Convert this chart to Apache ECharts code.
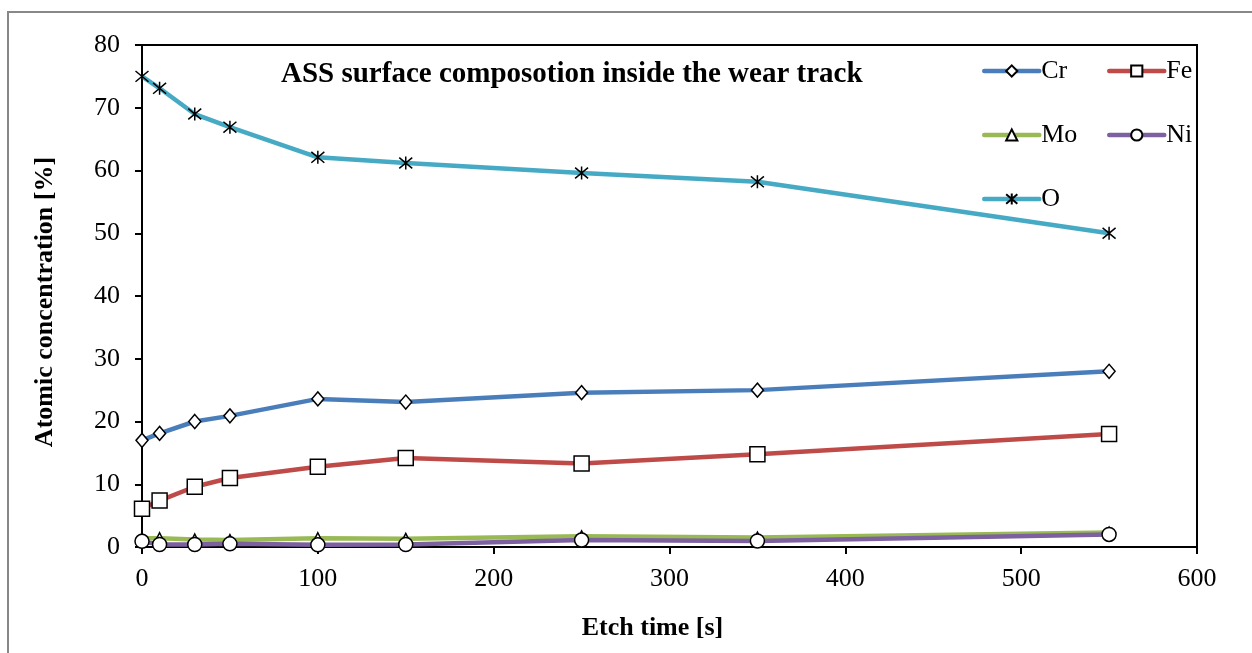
<!DOCTYPE html>
<html>
<head>
<meta charset="utf-8">
<script src="https://cdn.jsdelivr.net/npm/echarts@6/dist/echarts.min.js"></script>
<style>
html,body{margin:0;padding:0;background:#fff;}
#chart{width:1252px;height:653px;}
</style>
</head>
<body>
<div id="chart"></div>
<script>
const etchTime = [0, 10, 30, 50, 100, 150, 250, 350, 550];
const cr = [17.0, 18.1, 20.0, 20.9, 23.6, 23.1, 24.6, 25.0, 28.0];
const fe = [6.1, 7.4, 9.6, 11.0, 12.8, 14.2, 13.3, 14.8, 18.0];
const mo = [1.4, 1.4, 1.2, 1.1, 1.4, 1.3, 1.7, 1.5, 2.3];
const ni = [0.9, 0.4, 0.4, 0.5, 0.35, 0.4, 1.1, 0.95, 2.0];
const ox = [75.0, 73.1, 69.0, 66.9, 62.1, 61.2, 59.6, 58.2, 50.0];
const seriesNames = ['Cr', 'Fe', 'Mo', 'Ni', 'O'];
const yTicks = {min: 0, max: 80, interval: 10};
const xTicks = {min: 0, max: 600, interval: 100};

const FONT = '"Liberation Serif", "Times New Roman", serif';
const asterisk = 'path://M0,0L10,10M10,0L0,10M5,-1L5,11';
const defs = [
  {name: 'Cr', data: cr, color: '#4A7EBB', symbol: 'diamond', size: [12, 14]},
  {name: 'Fe', data: fe, color: '#BE4B48', symbol: 'rect', size: 15},
  {name: 'Mo', data: mo, color: '#98B954', symbol: 'triangle', size: 11},
  {name: 'Ni', data: ni, color: '#7D60A0', symbol: 'circle', size: 14},
  {name: 'O', data: ox, color: '#46AAC5', symbol: asterisk, size: 13}
];

const series = defs.map(d => ({
  name: d.name,
  type: 'line',
  data: etchTime.map((t, i) => [t, d.data[i]]),
  symbol: d.symbol,
  symbolSize: d.size,
  showAllSymbol: true,
  color: d.color,
  lineStyle: {color: d.color, width: 4.5},
  itemStyle: {color: '#fff', borderColor: '#000', borderWidth: 1.5},
  emphasis: {disabled: true},
  animation: false,
  z: 3
}));
const legendPos = {Cr: [982, 58], Fe: [1107, 58], Mo: [982, 122], Ni: [1107, 122], O: [982, 186]};
const legends = seriesNames.map(n => ({
  data: [n],
  left: legendPos[n][0],
  top: legendPos[n][1],
  itemWidth: 55,
  itemHeight: 14,
  itemGap: 0,
  padding: 0,
  selectedMode: false,
  lineStyle: {width: 4.5, cap: 'round'},
  textStyle: {fontFamily: FONT, fontSize: 26, color: '#000', padding: [0, 0, 0, -3]}
}));

const chart = echarts.init(document.getElementById('chart'), null, {renderer: 'canvas'});
chart.setOption({
  animation: false,
  backgroundColor: '#fff',
  title: {
    text: 'ASS surface composotion inside the wear track',
    left: 276, top: 55,
    textStyle: {fontFamily: FONT, fontSize: 29, fontWeight: 'bold', color: '#000'}
  },
  legend: legends,
  graphic: [{
    type: 'rect', shape: {x: 8, y: 12, width: 1260, height: 680},
    style: {fill: 'none', stroke: '#888', lineWidth: 2}, silent: true, z: -1
  }],
  grid: {
    left: 142, right: 55, top: 45, bottom: 106,
    show: true, borderColor: '#000', borderWidth: 2, backgroundColor: 'transparent'
  },
  xAxis: {
    type: 'value', min: xTicks.min, max: xTicks.max, interval: xTicks.interval,
    name: 'Etch time [s]', nameLocation: 'middle', nameGap: 68,
    nameTextStyle: {fontFamily: FONT, fontSize: 26, fontWeight: 'bold', color: '#000', padding: [0, 34, 0, 0]},
    axisLine: {show: true, lineStyle: {color: '#000', width: 2}},
    axisTick: {show: true, inside: false, length: 7, lineStyle: {color: '#000', width: 2}},
    axisLabel: {fontFamily: FONT, fontSize: 26, color: '#000', margin: 19},
    splitLine: {show: false}
  },
  yAxis: {
    type: 'value', min: yTicks.min, max: yTicks.max, interval: yTicks.interval,
    name: 'Atomic concentration [%]', nameLocation: 'middle', nameGap: 84, nameRotate: 90,
    nameTextStyle: {fontFamily: FONT, fontSize: 26, fontWeight: 'bold', color: '#000', padding: [0, 12, 0, 0]},
    axisLine: {show: true, lineStyle: {color: '#000', width: 2}},
    axisTick: {show: true, inside: false, length: 7, lineStyle: {color: '#000', width: 2}},
    axisLabel: {fontFamily: FONT, fontSize: 26, color: '#000', margin: 22},
    splitLine: {show: false}
  },
  series: series
});
</script>
</body>
</html>
